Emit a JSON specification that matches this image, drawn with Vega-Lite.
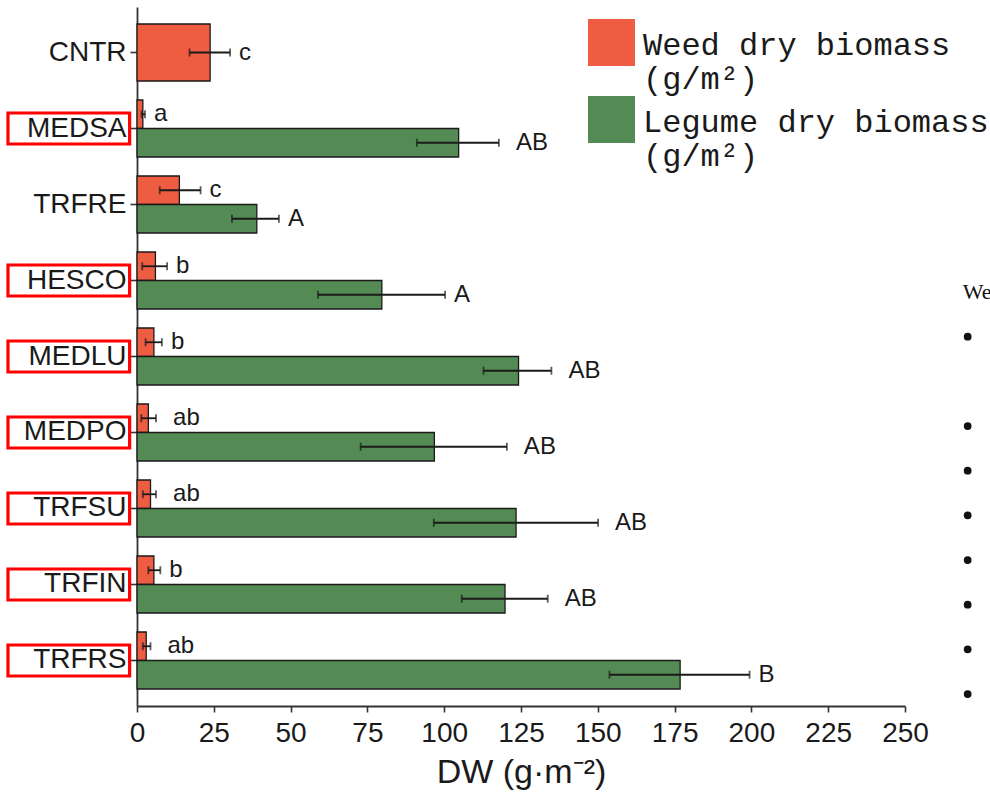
{
  "$schema": "https://vega.github.io/schema/vega-lite/v6.json",
  "width": 768,
  "height": 699,
  "autosize": "none",
  "padding": {"left": 137, "top": 7, "right": 85, "bottom": 90},
  "background": "white",
  "config": {
    "view": {"stroke": null},
    "font": "Liberation Sans",
    "legend": {
      "title": null,
      "symbolType": "M-1,-0.447L1,-0.447L1,1.553L-1,1.553Z",
      "symbolSize": 2209,
      "symbolStrokeWidth": 0,
      "labelFont": "Liberation Mono",
      "labelFontSize": 32,
      "labelColor": "#1a1a1a",
      "labelBaseline": "top",
      "labelLineHeight": 37,
      "labelOffset": 8,
      "labelLimit": 0,
      "padding": 0
    }
  },
  "datasets": {
    "bio": [
      {"group": "CNTR", "series": "Weed", "mean": 23.8, "lo": 17.1, "hi": 30.3, "label": "c"},
      {"group": "MEDSA", "series": "Weed", "mean": 1.9, "lo": 1.5, "hi": 2.6, "label": "a"},
      {"group": "MEDSA", "series": "Legume", "mean": 104.7, "lo": 91.1, "hi": 117.8, "label": "AB"},
      {"group": "TRFRE", "series": "Weed", "mean": 13.8, "lo": 7.4, "hi": 20.7, "label": "c"},
      {"group": "TRFRE", "series": "Legume", "mean": 39.0, "lo": 30.9, "hi": 46.2, "label": "A"},
      {"group": "HESCO", "series": "Weed", "mean": 6.0, "lo": 1.7, "hi": 9.8, "label": "b"},
      {"group": "HESCO", "series": "Legume", "mean": 79.7, "lo": 58.9, "hi": 100.3, "label": "A"},
      {"group": "MEDLU", "series": "Weed", "mean": 5.5, "lo": 2.8, "hi": 8.1, "label": "b"},
      {"group": "MEDLU", "series": "Legume", "mean": 124.2, "lo": 112.8, "hi": 134.9, "label": "AB"},
      {"group": "MEDPO", "series": "Weed", "mean": 3.7, "lo": 1.4, "hi": 6.2, "label": "ab"},
      {"group": "MEDPO", "series": "Legume", "mean": 96.8, "lo": 72.8, "hi": 120.4, "label": "AB"},
      {"group": "TRFSU", "series": "Weed", "mean": 4.4, "lo": 1.9, "hi": 6.2, "label": "ab"},
      {"group": "TRFSU", "series": "Legume", "mean": 123.4, "lo": 96.6, "hi": 150.1, "label": "AB"},
      {"group": "TRFIN", "series": "Weed", "mean": 5.5, "lo": 3.7, "hi": 7.6, "label": "b"},
      {"group": "TRFIN", "series": "Legume", "mean": 119.8, "lo": 105.7, "hi": 133.7, "label": "AB"},
      {"group": "TRFRS", "series": "Weed", "mean": 3.0, "lo": 1.9, "hi": 4.4, "label": "ab"},
      {"group": "TRFRS", "series": "Legume", "mean": 176.8, "lo": 153.8, "hi": 199.4, "label": "B"}
    ],
    "highlight": [
      {"group": "MEDSA"}, {"group": "HESCO"}, {"group": "MEDLU"}, {"group": "MEDPO"},
      {"group": "TRFSU"}, {"group": "TRFIN"}, {"group": "TRFRS"}
    ],
    "doc": [
      {"line": 0, "kind": "text", "t": "We"},
      {"line": 1, "kind": "bullet"},
      {"line": 3, "kind": "bullet"},
      {"line": 4, "kind": "bullet"},
      {"line": 5, "kind": "bullet"},
      {"line": 6, "kind": "bullet"},
      {"line": 7, "kind": "bullet"},
      {"line": 8, "kind": "bullet"},
      {"line": 9, "kind": "bullet"}
    ]
  },
  "layer": [
    {
      "encoding": {
        "y": {
          "field": "group",
          "type": "nominal",
          "sort": ["CNTR", "MEDSA", "TRFRE", "HESCO", "MEDLU", "MEDPO", "TRFSU", "TRFIN", "TRFRS"],
          "scale": {"paddingInner": 0.25, "paddingOuter": 0.224},
          "axis": {
            "title": null,
            "labelFont": "Liberation Sans",
            "labelFontSize": 28,
            "labelColor": "#1a1a1a",
            "labelPadding": 4,
            "tickSize": 7,
            "tickWidth": 1.6,
            "tickColor": "#333333",
            "domainColor": "#333333",
            "domainWidth": 1.8
          }
        }
      },
      "layer": [
        {
          "data": {"name": "bio"},
          "transform": [{"filter": "datum.group != 'CNTR' && datum.series == 'Weed'"}],
          "mark": {"type": "bar", "stroke": "#1a1a1a", "strokeWidth": 1.3},
          "encoding": {
            "x": {
              "field": "mean",
              "type": "quantitative",
              "scale": {"domain": [0, 250], "nice": false},
              "axis": {
                "title": "DW (g·m⁻²)",
                "values": [0, 25, 50, 75, 100, 125, 150, 175, 200, 225, 250],
                "grid": false,
                "labelFont": "Liberation Sans",
                "labelFontSize": 28,
                "labelColor": "#1a1a1a",
                "labelFlush": false,
                "labelOverlap": false,
                "labelPadding": 7,
                "tickSize": 6,
                "tickWidth": 1.6,
                "tickColor": "#333333",
                "domainColor": "#333333",
                "domainWidth": 1.8,
                "titleFont": "Liberation Sans",
                "titleFontSize": 34,
                "titleFontWeight": "normal",
                "titleColor": "#1a1a1a",
                "titlePadding": 8
              }
            },
            "yOffset": {"field": "series", "type": "nominal", "scale": {"domain": ["Weed", "Legume"], "paddingInner": 0, "paddingOuter": 0}},
            "fill": {
              "field": "series",
              "type": "nominal",
              "scale": {"domain": ["Weed"], "range": ["#EE5C42"]},
              "legend": {
                "orient": "none",
                "legendX": 451,
                "legendY": -1,
                "labelExpr": "['Weed dry biomass', '(g/m²)']"
              }
            }
          }
        },
        {
          "data": {"name": "bio"},
          "transform": [{"filter": "datum.series == 'Legume'"}],
          "mark": {"type": "bar", "stroke": "#1a1a1a", "strokeWidth": 1.3},
          "encoding": {
            "x": {"field": "mean", "type": "quantitative"},
            "yOffset": {"field": "series", "type": "nominal"},
            "color": {
              "field": "series",
              "type": "nominal",
              "scale": {"domain": ["Legume"], "range": ["#548B54"]},
              "legend": {
                "orient": "none",
                "legendX": 451,
                "legendY": 76,
                "labelExpr": "['Legume dry biomass', '(g/m²)']"
              }
            }
          }
        },
        {
          "data": {"name": "bio"},
          "transform": [{"filter": "datum.group == 'CNTR'"}],
          "mark": {"type": "bar", "stroke": "#1a1a1a", "strokeWidth": 1.3},
          "encoding": {
            "x": {"field": "mean", "type": "quantitative"},
            "fill": {"field": "series", "type": "nominal"}
          }
        },
        {
          "data": {"name": "bio"},
          "transform": [{"filter": "datum.group != 'CNTR'"}],
          "mark": {"type": "rule", "color": "#1a1a1a", "strokeWidth": 1.8},
          "encoding": {
            "x": {"field": "lo", "type": "quantitative"},
            "x2": {"field": "hi"},
            "yOffset": {"field": "series", "type": "nominal"}
          }
        },
        {
          "data": {"name": "bio"},
          "transform": [{"filter": "datum.group == 'CNTR'"}],
          "mark": {"type": "rule", "color": "#1a1a1a", "strokeWidth": 1.8},
          "encoding": {
            "x": {"field": "lo", "type": "quantitative"},
            "x2": {"field": "hi"}
          }
        },
        {
          "data": {"name": "bio"},
          "transform": [{"filter": "datum.group != 'CNTR'"}, {"fold": ["lo", "hi"], "as": ["end", "val"]}],
          "mark": {"type": "tick", "color": "#1a1a1a", "size": 8, "thickness": 1.8, "orient": "vertical"},
          "encoding": {
            "x": {"field": "val", "type": "quantitative"},
            "yOffset": {"field": "series", "type": "nominal"}
          }
        },
        {
          "data": {"name": "bio"},
          "transform": [{"filter": "datum.group == 'CNTR'"}, {"fold": ["lo", "hi"], "as": ["end", "val"]}],
          "mark": {"type": "tick", "color": "#1a1a1a", "size": 8, "thickness": 1.8, "orient": "vertical"},
          "encoding": {
            "x": {"field": "val", "type": "quantitative"}
          }
        },
        {
          "data": {"name": "bio"},
          "transform": [{"filter": "datum.group != 'CNTR'"}],
          "mark": {"type": "text", "align": "left", "baseline": "middle", "font": "Liberation Sans", "fontSize": 24, "color": "#1a1a1a", "dx": {"expr": "1 + 8*length(datum.label)"}},
          "encoding": {
            "x": {"field": "hi", "type": "quantitative"},
            "yOffset": {"field": "series", "type": "nominal"},
            "text": {"field": "label"}
          }
        },
        {
          "data": {"name": "bio"},
          "transform": [{"filter": "datum.group == 'CNTR'"}],
          "mark": {"type": "text", "align": "left", "baseline": "middle", "font": "Liberation Sans", "fontSize": 24, "color": "#1a1a1a", "dx": {"expr": "1 + 8*length(datum.label)"}},
          "encoding": {
            "x": {"field": "hi", "type": "quantitative"},
            "text": {"field": "label"}
          }
        },
        {
          "data": {"name": "highlight"},
          "mark": {"type": "bar", "fill": "transparent", "stroke": "#FF0000", "strokeWidth": 3.2, "height": 31},
          "encoding": {
            "x": {"datum": -42, "type": "quantitative"},
            "x2": {"datum": -2.4}
          }
        }
      ]
    },
    {
      "data": {"name": "doc"},
      "encoding": {
        "x": {"datum": 270.4, "type": "quantitative"},
        "y": {
          "field": "line",
          "type": "quantitative",
          "scale": {"domain": [-6.38, 9.268], "reverse": true, "nice": false, "zero": false},
          "axis": null
        }
      },
      "layer": [
        {
          "transform": [{"filter": "datum.kind == 'text'"}],
          "mark": {"type": "text", "align": "left", "baseline": "middle", "font": "Liberation Serif", "fontSize": 22, "dx": -5, "color": "#111111"},
          "encoding": {"text": {"field": "t"}}
        },
        {
          "transform": [{"filter": "datum.kind == 'bullet'"}],
          "mark": {"type": "point", "shape": "circle", "filled": true, "size": 60, "color": "#111111", "opacity": 1}
        }
      ]
    }
  ],
  "resolve": {"scale": {"y": "independent"}}
}
